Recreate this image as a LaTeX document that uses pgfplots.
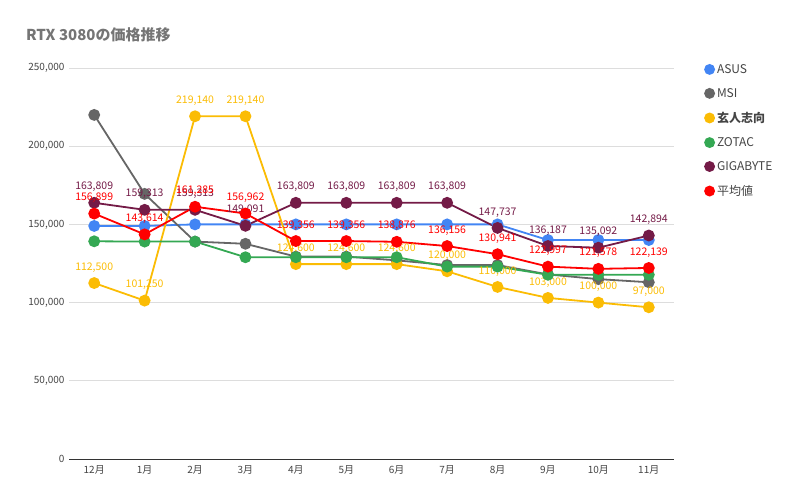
\documentclass[border=0pt]{standalone}
\usepackage{fontspec}
\setmainfont{Noto Sans CJK JP}
\usepackage{pgfplots}
\pgfplotsset{compat=1.18}
\definecolor{casus}{HTML}{4285F4}
\definecolor{cmsi}{HTML}{666666}
\definecolor{ckuro}{HTML}{FBBC04}
\definecolor{czotac}{HTML}{34A853}
\definecolor{cgiga}{HTML}{741B47}
\definecolor{cavg}{HTML}{FF0000}
\definecolor{ctitle}{HTML}{757575}
\definecolor{ctick}{HTML}{444444}
\definecolor{cgrid}{HTML}{DDDDDD}
\definecolor{cbase}{HTML}{333333}
\begin{document}
\begin{tikzpicture}[x=1pt,y=1pt]
\path[use as bounding box] (0,0) rectangle (812,502);
\node[anchor=west, text=ctitle, font=\fontsize{15}{18}\selectfont\bfseries, inner sep=0pt] at (26,467) {RTX 3080の価格推移};
\begin{axis}[
  at={(69pt,43pt)}, anchor=south west,
  scale only axis, width=605pt, height=391pt,
  xmin=-0.5, xmax=11.5, ymin=0, ymax=250000,
  xtick={0,...,11},
  xticklabels={12月,1月,2月,3月,4月,5月,6月,7月,8月,9月,10月,11月},
  ytick={0,50000,100000,150000,200000,250000},
  scaled y ticks=false,
  /pgf/number format/assume math mode=true,
  yticklabel={\pgfmathprintnumber[fixed,precision=0,1000 sep={,}]{\tick}},
  tick label style={font=\fontsize{10}{12}\selectfont, text=ctick},
  xticklabel style={yshift=-3pt},
  yticklabel style={xshift=-1pt},
  major tick length=0pt,
  axis lines*=left,
  y axis line style={draw=none},
  x axis line style={draw=cbase, line width=0.9pt},
  ymajorgrids, grid style={cgrid, line width=0.8pt},
  clip=false,
  every axis plot/.append style={line width=1.8pt, mark=*, mark size=5pt},
  legend image code/.code={\fill[#1] (4.5pt,0pt) circle (4.5pt);},
  legend style={at={(axis description cs:1,1)}, anchor=north west, xshift=30pt, yshift=6pt,
    draw=none, fill=none, font=\fontsize{12}{14}\selectfont, row sep=9.5pt, inner sep=0pt,
    nodes={inner sep=2pt, text=ctick}},
  legend cell align=left,
  every node near coord/.append style={font=\fontsize{10.5}{12}\selectfont, inner sep=1pt, yshift=9pt},
]
\addplot[color=casus] coordinates {(0,149000) (1,149000) (2,150000) (3,150000) (4,150000) (5,150000) (6,150000) (7,150000) (8,150000) (9,140000) (10,140000) (11,140000)};
\addlegendentry{ASUS}
\addplot[color=cmsi] coordinates {(0,220000) (1,169500) (2,139000) (3,137600) (4,129400) (5,129400) (6,127000) (7,124000) (8,124000) (9,118000) (10,115000) (11,113000)};
\addlegendentry{MSI}
\addplot[color=ckuro, nodes near coords={\pgfmathprintnumber[fixed,precision=0,1000 sep={,}]{\pgfplotspointmeta}}] coordinates {(0,112500) (1,101250) (2,219140) (3,219140) (4,124600) (5,124600) (6,124600) (7,120000) (8,110000) (9,103000) (10,100000) (11,97000)};
\addlegendentry{\textbf{玄人志向}}
\addplot[color=czotac] coordinates {(0,139200) (1,139000) (2,139000) (3,129000) (4,129000) (5,129000) (6,129000) (7,123000) (8,123000) (9,117800) (10,117800) (11,117800)};
\addlegendentry{ZOTAC}
\addplot[color=cgiga, nodes near coords={\pgfmathprintnumber[fixed,precision=0,1000 sep={,}]{\pgfplotspointmeta}}] coordinates {(0,163809) (1,159313) (2,159313) (3,149091) (4,163809) (5,163809) (6,163809) (7,163809) (8,147737) (9,136187) (10,135092) (11,142894)};
\addlegendentry{GIGABYTE}
\addplot[color=cavg, nodes near coords={\pgfmathprintnumber[fixed,precision=0,1000 sep={,}]{\pgfplotspointmeta}}] coordinates {(0,156899) (1,143614) (2,161285) (3,156962) (4,139356) (5,139356) (6,138876) (7,136156) (8,130941) (9,122997) (10,121578) (11,122139)};
\addlegendentry{平均値}
\end{axis}
\end{tikzpicture}
\end{document}
